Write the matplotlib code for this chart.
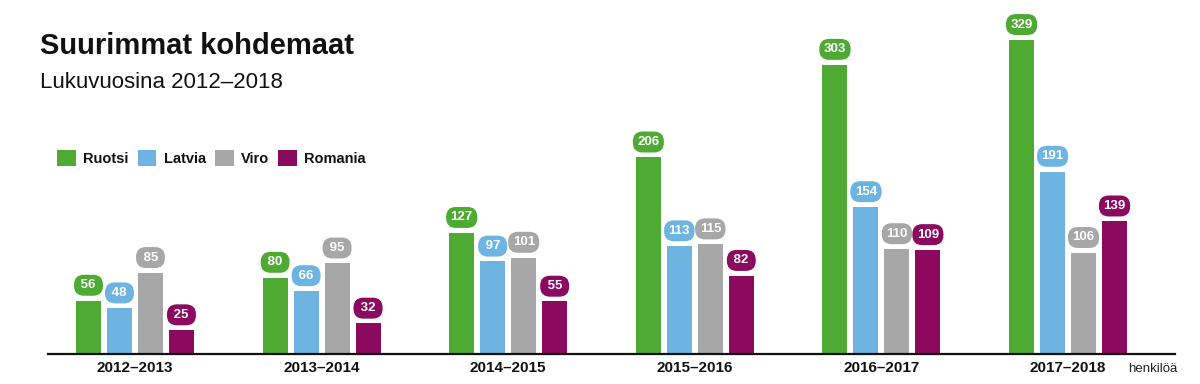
"""Suurimmat kohdemaat: grouped bars per lukuvuosi."""

import matplotlib
matplotlib.use("Agg")
import matplotlib.pyplot as plt
from matplotlib.patches import Patch

plt.rcParams["font.family"] = ["Liberation Sans", "DejaVu Sans"]

YEARS = ["2012–2013", "2013–2014", "2014–2015", "2015–2016", "2016–2017", "2017–2018"]
COUNTRIES = ["Ruotsi", "Latvia", "Viro", "Romania"]
RUOTSI = [56, 80, 127, 206, 303, 329]
LATVIA = [48, 66, 97, 113, 154, 191]
VIRO = [85, 95, 101, 115, 110, 106]
ROMANIA = [25, 32, 55, 82, 109, 139]

COLORS = ["#4faa33", "#6eb4e2", "#a8a7a7", "#8b0a5f"]


def main():
    fig = plt.figure(figsize=(12, 3.84), dpi=100)
    # axes placed in pixel terms: baseline at y=354, x from 48 to 1175
    ax = fig.add_axes([48 / 1200, 30 / 384, (1175 - 48) / 1200, 354 / 384])

    series = [RUOTSI, LATVIA, VIRO, ROMANIA]
    step = 0.166
    width = 0.134
    for k, (vals, col) in enumerate(zip(series, COLORS)):
        off = (k - 1.5) * step
        xs = [i + off for i in range(len(YEARS))]
        ax.bar(xs, vals, width=width, color=col, zorder=2)
        for x, v in zip(xs, vals):
            txt = str(v) if v >= 100 else "\u2009" + str(v) + "\u2009"
            ax.annotate(txt, (x, v), textcoords="offset points",
                        xytext=(0, 11), ha="center", va="center",
                        fontsize=9.5, fontweight="bold", color="white",
                        bbox=dict(boxstyle="round,pad=0.34,rounding_size=0.75",
                                  fc=col, ec="none"))

    ax.set_xlim(-0.466, 5.573)
    ax.set_ylim(0, 370.7)
    for s in ["top", "right", "left"]:
        ax.spines[s].set_visible(False)
    ax.spines["bottom"].set_linewidth(1.6)
    ax.spines["bottom"].set_color("#111111")
    ax.set_yticks([])
    ax.set_xticks(range(len(YEARS)))
    ax.set_xticklabels(YEARS, fontsize=11, fontweight="bold", color="#111111")
    ax.tick_params(axis="x", length=0, pad=5)

    fig.text(1128 / 1200, 1 - 369 / 384, "henkilöä", fontsize=9.5,
             color="#222222", va="center", ha="left")

    fig.text(40 / 1200, 1 - 46 / 384, "Suurimmat kohdemaat", fontsize=21,
             fontweight="bold", color="#111111", va="center")
    fig.text(40 / 1200, 1 - 82 / 384, "Lukuvuosina 2012–2018", fontsize=16,
             color="#111111", va="center")

    handles = [Patch(facecolor=c, edgecolor="none") for c in COLORS]
    leg = fig.legend(handles, COUNTRIES, loc="center left",
                     bbox_to_anchor=(44 / 1200, 1 - 158 / 384), ncol=4,
                     frameon=False, handlelength=1.3, handleheight=1.3,
                     handletextpad=0.5, columnspacing=0.6,
                     prop=dict(size=10.5, weight="bold"))
    for t in leg.get_texts():
        t.set_color("#111111")

    fig.savefig("out.png", dpi=100)


if __name__ == "__main__":
    main()
